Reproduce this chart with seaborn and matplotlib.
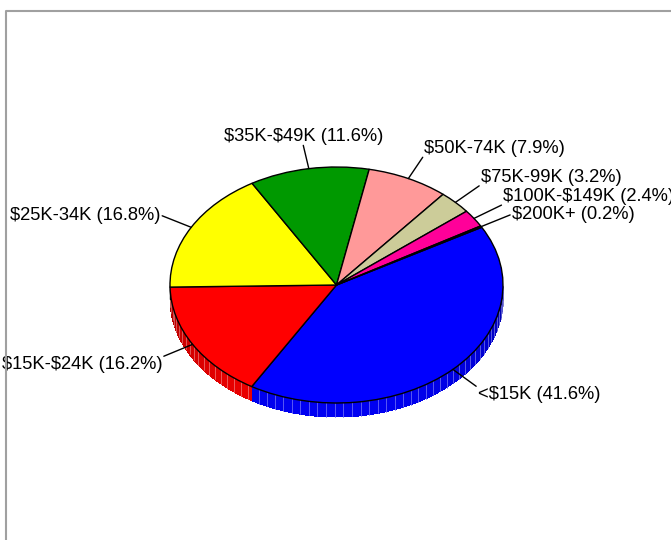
import numpy as np
import matplotlib
matplotlib.use('Agg')
import matplotlib.pyplot as plt
import matplotlib.colors as mcolors
from matplotlib.lines import Line2D
import seaborn as sns

# income brackets, clockwise from the start of the largest slice
brackets = ['<$15K', '$15K-$24K', '$25K-34K', '$35K-$49K', '$50K-74K',
            '$75K-99K', '$100K-$149K', '$200K+']
shares = [41.6, 16.2, 16.8, 11.6, 7.9, 3.2, 2.4, 0.2]
slice_colors = ['#0000ff', '#ff0000', '#ffff00', '#009900', '#ff9999',
                '#cccc99', '#ff0099', '#330033']

sns.set_style('white')
plt.rcParams['font.family'] = ['Liberation Sans', 'DejaVu Sans']

W, H = 671, 540
cx, cy, rx, ry = 336.5, 285, 166.5, 118   # pie centre and radii, pixels
depth = 14 / ry                             # side wall height, data units

fig = plt.figure(figsize=(W / 100, H / 100), dpi=100)
ax = fig.add_axes([0, 0, 1, 1])

labels = ['%s (%.1f%%)' % (b, s) for b, s in zip(brackets, shares)]
wedges, _ = ax.pie(shares, colors=slice_colors, startangle=29.3, counterclock=False,
                   wedgeprops=dict(edgecolor='black', linewidth=1.0), radius=1)
for w in wedges:
    w.set_zorder(5)
ax.set_aspect('auto')
ax.set_xlim(-cx / rx, (W - cx) / rx)
ax.set_ylim((cy - H) / ry, cy / ry)
ax.axis('off')

# side wall of the front half of the pie
for w, col in zip(wedges, slice_colors):
    t1, t2 = w.theta1 % 360, w.theta2 % 360
    if t2 <= t1:
        t2 += 360
    segs = []
    for off in (0, 360):
        lo, hi = max(t1, 180 + off), min(t2, 360 + off)
        if hi > lo:
            segs.append((lo - off, hi - off))
    base = np.array(mcolors.to_rgb(col))
    for a0, a1 in segs:
        steps = np.arange(a0, a1, 3.0)
        edges = np.append(steps, a1)
        for s0, s1 in zip(edges[:-1], edges[1:]):
            aa = np.radians(np.linspace(s0, s1, 4))
            xs, ys = np.cos(aa), np.sin(aa)
            mid = np.radians((s0 + s1) / 2)
            fac = 0.55 + 0.4 * np.sqrt(max(-np.sin(mid), 0))
            shade = base * fac
            ax.fill(np.concatenate([xs, xs[::-1]]),
                    np.concatenate([ys, ys[::-1] - depth]),
                    facecolor=shade, lw=0, antialiased=False, zorder=2)
            stripe = shade * 0.6 + 0.4
            r = np.radians(s1)
            if s1 < a1:
                ax.plot([np.cos(r), np.cos(r)], [np.sin(r), np.sin(r) - depth],
                        color=stripe, lw=0.6, zorder=3)

# left end of the side wall
ax.plot([-1, -1], [0, -depth], color='black', lw=1.0, zorder=4)

# labels with leader lines
for w, lab in zip(wedges, labels):
    m = np.radians((w.theta1 + w.theta2) / 2)
    c, s = np.cos(m), np.sin(m)
    ax.plot([c, 1.2 * c], [s, 1.2 * s], color='black', lw=1.0, zorder=6)
    ha = 'left' if c > 0.3 else ('right' if c < -0.3 else 'center')
    va = 'bottom' if s > 0.5 else ('top' if s < -0.2 else 'center')
    dx = 0.01 if ha == 'left' else (-0.01 if ha == 'right' else 0)
    ax.text(1.2 * c + dx, 1.2 * s, lab, ha=ha, va=va, fontsize=13.2,
            color='black', zorder=7, parse_math=False)

# grey frame running off the right and bottom edges
fx, fy = 5.5 / W, 1 - 11 / H
fig.add_artist(Line2D([fx, fx, 1.0], [0, fy, fy], transform=fig.transFigure,
                      color='#a0a0a0', lw=1.5))

fig.savefig('out.png', dpi=100)
